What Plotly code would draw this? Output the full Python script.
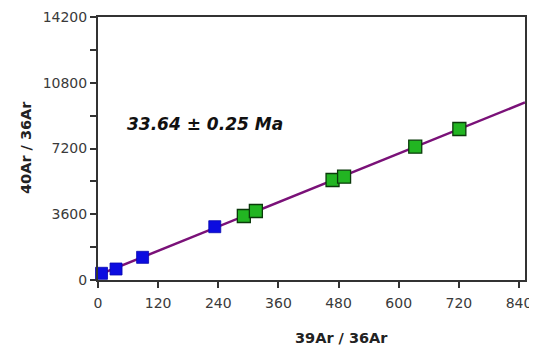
import numpy as np
import plotly.graph_objects as go

# Data
blue_x = [7, 36, 89, 233]
blue_y = [367, 602, 1242, 2918]
green_x = [291, 315, 468, 491, 633, 721]
green_y = [3504, 3778, 5475, 5656, 7298, 8268]

x_ticks = [0, 120, 240, 360, 480, 600, 720, 840]
y_ticks = [0, 3600, 7200, 10800, 14400]
y_tick_text = ["0", "3600", "7200", "10800", "14200"]
y_minor = [1800, 5400, 9000, 12600]
age_label = "33.64 ± 0.25 Ma"

x_max = 852
y_max = 14400

all_x = np.array(blue_x + green_x, dtype=float)
all_y = np.array(blue_y + green_y, dtype=float)
slope, intercept = np.polyfit(all_x, all_y, 1)
line_x = np.array([0, x_max])
line_y = slope * line_x + intercept

fig = go.Figure()
fig.add_trace(go.Scatter(x=line_x, y=line_y, mode="lines",
                         line=dict(color="#7a1178", width=2.5),
                         showlegend=False, hoverinfo="skip"))
fig.add_trace(go.Scatter(x=blue_x, y=blue_y, mode="markers",
                         marker=dict(symbol="square", size=12, color="#0c0ce0",
                                     line=dict(color="#0808b0", width=0.8)),
                         showlegend=False, cliponaxis=False))
fig.add_trace(go.Scatter(x=green_x, y=green_y, mode="markers",
                         marker=dict(symbol="square", size=13, color="#22b522",
                                     line=dict(color="#0a3a0a", width=1.3)),
                         showlegend=False, cliponaxis=False))

FONT = "DejaVu Sans"
axis_font = dict(family=FONT, size=14, color="#3a3a3a")
fig.update_xaxes(range=[0, x_max], tickvals=x_ticks, ticks="outside", ticklen=6,
                 tickwidth=1.5, tickcolor="#333", showline=True, linecolor="#333",
                 linewidth=2, mirror=True, showgrid=False, zeroline=False,
                 tickfont=axis_font, automargin=False, ticklabelstandoff=3)
fig.update_yaxes(range=[0, y_max], tickvals=y_ticks, ticktext=y_tick_text,
                 ticks="outside", ticklen=6, tickwidth=1.5, tickcolor="#333",
                 showline=True, linecolor="#333", linewidth=2, mirror=True,
                 showgrid=False, zeroline=False, tickfont=axis_font, automargin=False,
                 minor=dict(tickvals=y_minor, ticks="outside", ticklen=6,
                            tickwidth=1.5, tickcolor="#333", showgrid=False))

# page body has an 8px default margin: work in page pixels, convert to figure pixels
OFF = 8
W, H = 537 - OFF, 350 - OFF
L, R, T, B = 98, 525, 17, 280
fig.add_annotation(x=(205 - L) / (R - L), y=(B - 124) / (B - T), xref="paper", yref="paper",
                   text="<b><i>" + age_label + "</i></b>",
                   showarrow=False, xanchor="center", yanchor="middle",
                   font=dict(family=FONT, size=17, color="#111"))
fig.add_annotation(x=(341 - L) / (R - L), y=-(338 - B) / (B - T), xref="paper", yref="paper",
                   text="<b>39Ar / 36Ar</b>", showarrow=False, xanchor="center", yanchor="middle",
                   font=dict(family=FONT, size=14.5, color="#222"))
fig.add_annotation(x=-(L - 26) / (R - L), y=(B - 148) / (B - T), xref="paper", yref="paper",
                   text="<b>40Ar / 36Ar</b>", textangle=-90, showarrow=False,
                   xanchor="center", yanchor="middle",
                   font=dict(family=FONT, size=14.5, color="#222"))

fig.update_layout(width=W, height=H,
                  margin=dict(l=L - OFF, r=537 - R, t=T - OFF, b=350 - B),
                  plot_bgcolor="white", paper_bgcolor="white")
fig.write_html("out.html")
